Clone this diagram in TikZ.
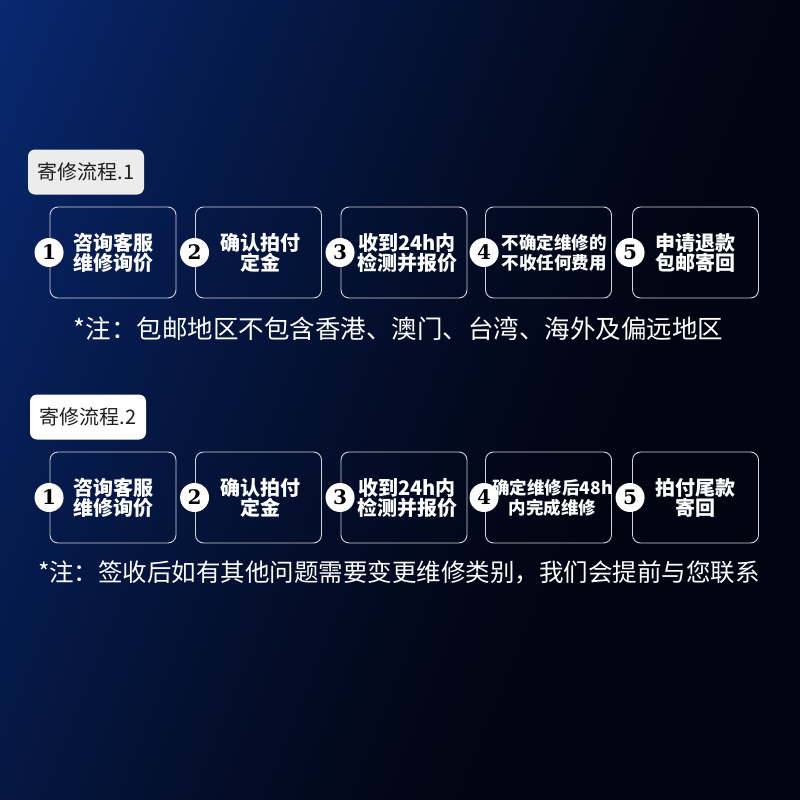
\documentclass[tikz,border=0pt]{standalone}
\usepackage{fontspec}
\newfontfamily\cjk{Noto Sans CJK SC}
\newfontfamily\numfont{DejaVu Serif}
\definecolor{bgA}{RGB}{8,40,112}
\definecolor{bgB}{RGB}{1,5,18}
\definecolor{boxline}{RGB}{210,210,218}
\definecolor{tagA}{RGB}{236,236,236}
\definecolor{tagtext}{RGB}{30,30,30}
\begin{document}
\begin{tikzpicture}[x=1pt,y=-1pt,
  stepbox/.style={draw=boxline, line width=0.9pt, rounded corners=8pt, minimum width=126pt, minimum height=91pt, inner sep=0pt},
  numdot/.style={circle, fill=white, minimum size=29pt, inner sep=0pt, text=black, font=\numfont\bfseries\fontsize{20}{20}\selectfont},
  steptext/.style={text=white, align=center, inner sep=0pt, font=\cjk\bfseries\fontsize{20}{20}\selectfont},
  smalltext/.style={steptext, font=\cjk\bfseries\fontsize{17.5}{20}\selectfont},
  tag/.style={rounded corners=7pt, minimum width=116pt, minimum height=45pt, inner sep=0pt, text=tagtext, font=\cjk\fontsize{20}{20}\selectfont},
  note/.style={text=white, inner sep=0pt}
]
\useasboundingbox (0,0) rectangle (800,800);
% background gradient (top-left blue to dark)
\begin{scope}
\clip (0,0) rectangle (800,800);
\begin{scope}[rotate=-22]
\foreach \t in {0,5,...,1045}{
  \pgfmathsetmacro\pp{100*(1-pow(max(1-\t/750,0.0001),1.3))}
  \fill[color=bgB!\pp!bgA] (\t,-330) rectangle (\t+6,770);
}
\end{scope}
\end{scope}

% ---------- flow 1 ----------
\node[tag, fill=tagA] (tag1) at (86,172) {寄修流程.1};
\node[stepbox] (b11) at (113,252.5) {};
\node[stepbox] (b12) at (258.5,252.5) {};
\node[stepbox] (b13) at (404,252.5) {};
\node[stepbox] (b14) at (548.5,252.5) {};
\node[stepbox] (b15) at (695.5,252.5) {};
\node[steptext] (t11) at (b11.center) {咨询客服\\维修询价};
\node[steptext] (t12) at ([xshift=2pt]b12.center) {确认拍付\\定金};
\node[steptext] (t13) at ([xshift=3pt]b13.center) {收到24h内\\检测并报价};
\node[smalltext] (t14) at ([xshift=5.5pt]b14.center) {不确定维修的\\不收任何费用};
\node[steptext] (t15) at (b15.center) {申请退款\\包邮寄回};
\node[numdot] (n11) at ([xshift=-0.5pt]b11.west) {1};
\node[numdot] (n12) at ([xshift=-0.5pt]b12.west) {2};
\node[numdot] (n13) at ([xshift=-0.5pt]b13.west) {3};
\node[numdot] (n14) at ([xshift=-1pt]b14.west) {4};
\node[numdot] (n15) at ([xshift=-2pt]b15.west) {5};
\node[note, font=\cjk\fontsize{25.5}{25.5}\selectfont] (note1) at (398.5,329) {*注：包邮地区不包含香港、澳门、台湾、海外及偏远地区};

% ---------- flow 2 ----------
\node[tag, fill=white] (tag2) at (88,417) {寄修流程.2};
\node[stepbox] (b21) at (113,497.5) {};
\node[stepbox] (b22) at (258.5,497.5) {};
\node[stepbox] (b23) at (404,497.5) {};
\node[stepbox] (b24) at (548.5,497.5) {};
\node[stepbox] (b25) at (695.5,497.5) {};
\node[steptext] (t21) at (b21.center) {咨询客服\\维修询价};
\node[steptext] (t22) at ([xshift=2pt]b22.center) {确认拍付\\定金};
\node[steptext] (t23) at ([xshift=3pt]b23.center) {收到24h内\\检测并报价};
\node[smalltext] (t24) at ([xshift=4pt]b24.center) {确定维修后48h\\内完成维修};
\node[steptext] (t25) at (b25.center) {拍付尾款\\寄回};
\node[numdot] (n21) at ([xshift=-0.5pt]b21.west) {1};
\node[numdot] (n22) at ([xshift=-0.5pt]b22.west) {2};
\node[numdot] (n23) at ([xshift=-0.5pt]b23.west) {3};
\node[numdot] (n24) at ([xshift=-1pt]b24.west) {4};
\node[numdot] (n25) at ([xshift=-2pt]b25.west) {5};
\node[note, font=\cjk\fontsize{24.5}{24.5}\selectfont] (note2) at (399,572) {*注：签收后如有其他问题需要变更维修类别，我们会提前与您联系};
\end{tikzpicture}
\end{document}
